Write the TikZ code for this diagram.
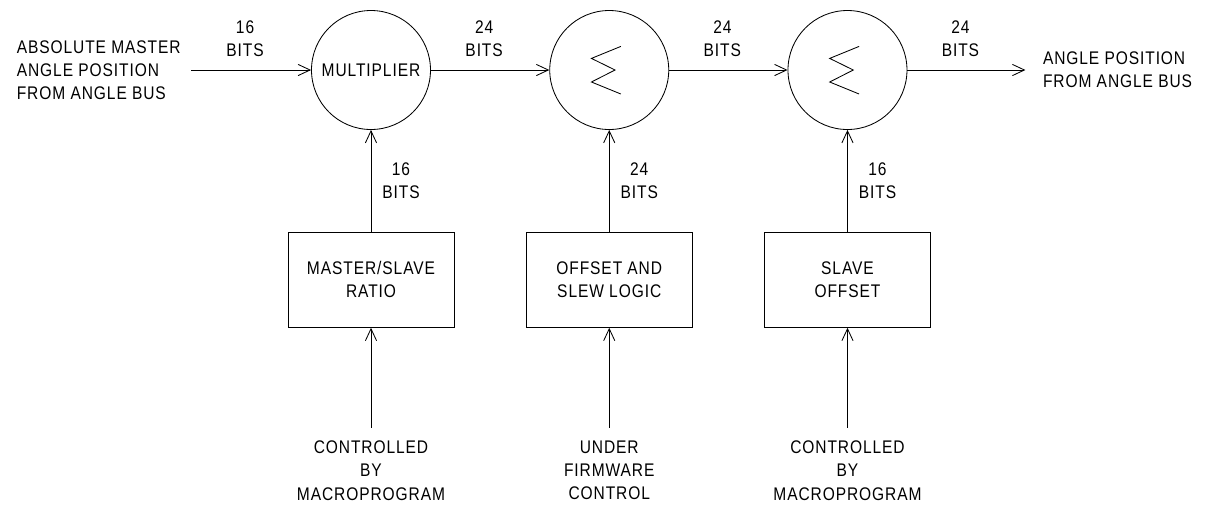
\documentclass[tikz,border=0pt]{standalone}
\usepackage{fontspec}
\setmainfont{Liberation Sans}[FakeStretch=0.85,LetterSpace=5]
\usetikzlibrary{
		positioning,
		arrows.meta
	}
\tikzset{
		>={Straight Barb[length=3mm,width=2.8mm]}
	}

\begin{document}
\begin{tikzpicture}[-,auto,node distance=10mm,line width=0.6pt,font=\fontsize{13}{16.5}\selectfont]
	\tikzstyle{point}=[coordinate]
	\tikzstyle{sumnode}=[draw, circle, minimum size=29.75mm, inner sep=0pt]
	\tikzstyle{block}=[draw, rectangle, minimum width=41.5mm, minimum height=23.75mm, align=center]
	\tikzstyle{txt}=[inner sep=0pt, align=center]
	\tikzstyle{bits}=[inner sep=0pt, align=center]
	\useasboundingbox (-92.75mm,17.5mm) rectangle (210mm,-108.5mm);
	% Circles and Blocks
	\node[sumnode] (mult)   at (0,0)                    {MULTIPLIER};
	\node[sumnode] (sum1)   [right = 29.6mm of mult]    {};
	\node[sumnode] (sum2)   [right = 29.6mm of sum1]    {};
	\node[block]   (ratio)  [below = 25.5mm of mult]    {MASTER/SLAVE\\RATIO};
	\node[block]   (slew)   [below = 25.5mm of sum1]    {OFFSET AND\\SLEW LOGIC};
	\node[block]   (soff)   [below = 25.5mm of sum2]    {SLAVE\\OFFSET};
	% Points and Texts
	\node[point]   (in0)    [left = 30mm of mult]       {};
	\node[point]   (out0)   [right = 29.5mm of sum2]    {};
	\node[point]   (q1)     [below = 25mm of ratio]     {};
	\node[point]   (q2)     [below = 25mm of slew]      {};
	\node[point]   (q3)     [below = 25mm of soff]      {};
	\node[txt, align=left] (src) [left = 2.5mm of in0]  {ABSOLUTE MASTER\\ANGLE POSITION\\FROM ANGLE BUS};
	\node[txt, align=left] (dst) [right = 4.3mm of out0] {ANGLE POSITION\\FROM ANGLE BUS};
	\node[txt]     (ctl1)   [below = 3.2mm of q1]       {CONTROLLED\\BY\\MACROPROGRAM};
	\node[txt]     (ctl2)   [below = 3.2mm of q2]       {UNDER\\FIRMWARE\\CONTROL};
	\node[txt]     (ctl3)   [below = 3.2mm of q3]       {CONTROLLED\\BY\\MACROPROGRAM};
	% Sigma signs
	\foreach \s in {sum1,sum2}
		\draw ([shift={(2.9mm,5.9mm)}]\s.center) -- ([shift={(-4.45mm,2.9mm)}]\s.center) -- ([shift={(1.45mm,0mm)}]\s.center) -- ([shift={(-4.45mm,-3mm)}]\s.center) -- ([shift={(2.9mm,-6mm)}]\s.center);
	% Bus lines
	\draw [->] (in0) -- node[bits, above=3.2mm, xshift=-1.5mm] {16\\BITS} (mult);
	\draw [->] (mult) -- node[bits, above=3.2mm, xshift=-1.5mm] {24\\BITS} (sum1);
	\draw [->] (sum1) -- node[bits, above=3.2mm, xshift=-1.5mm] {24\\BITS} (sum2);
	\draw [->] (sum2) -- node[bits, above=3.2mm, xshift=-1.5mm] {24\\BITS} (out0);
	% Side inputs
	\draw [->] (ratio) -- node[bits, right=2.75mm] {16\\BITS} (mult);
	\draw [->] (slew) -- node[bits, right=2.75mm] {24\\BITS} (sum1);
	\draw [->] (soff) -- node[bits, right=2.75mm] {16\\BITS} (sum2);
	\draw [->] (q1) -- (ratio);
	\draw [->] (q2) -- (slew);
	\draw [->] (q3) -- (soff);
\end{tikzpicture}
\end{document}
